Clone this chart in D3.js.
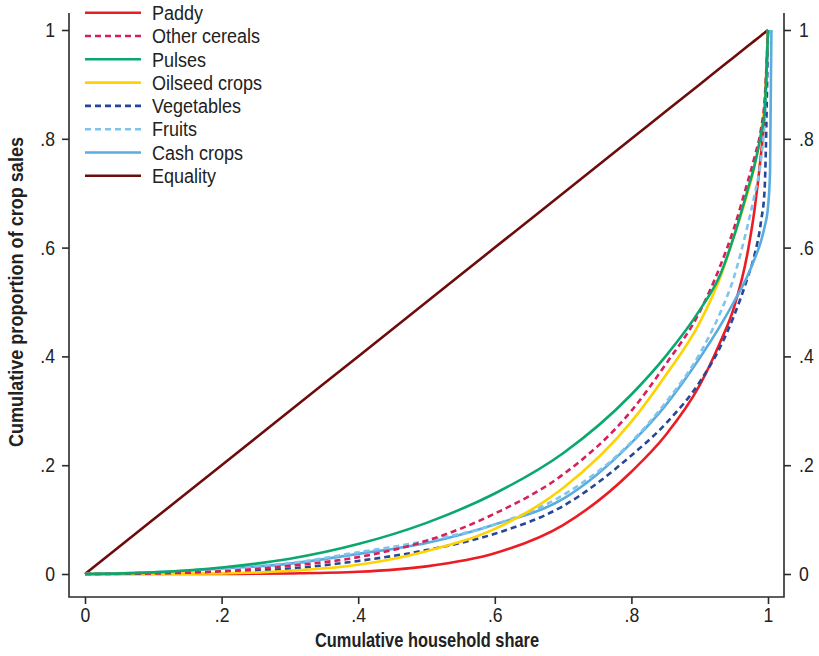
<!DOCTYPE html>
<html>
<head>
<meta charset="utf-8">
<script src="https://cdn.jsdelivr.net/npm/d3@7"></script>
<style>
  body { margin: 0; background: #fff; }
  text { font-family: "Liberation Sans", Arial, sans-serif; fill: #222; }
</style>
</head>
<body>
<svg id="chart" width="819" height="656"></svg>
<script>
// cumulative household share (shared x grid for every curve)
var share = [0, .1, .2, .3, .4, .5, .6, .7, .8, .85, .9, .93, .95, .97, .98, .99, .995, 1];

// cumulative proportion of crop sales
var paddy      = [0, 0, 0, .001, .004, .014, .038, .09, .188, .255, .347, .426, .489, .59, .667, .775, .844, 1];
var cereals    = [0, .001, .005, .015, .031, .061, .111, .183, .30, .385, .482, .566, .635, .72, .765, .82, .87, 1];
var pulses     = [0, .003, .012, .028, .055, .094, .148, .222, .33, .40, .485, .55, .62, .705, .75, .81, .85, 1];
var oilseed    = [0, .0005, .001, .006, .017, .042, .083, .158, .28, .365, .462, .545, .62, .70, .748, .815, .862, 1];
var vegetables = [0, .002, .004, .010, .024, .044, .074, .125, .218, .276, .353, .417, .474, .544, .585, .65, .706, 1];
var fruits     = [0, .003, .010, .020, .040, .061, .091, .145, .243, .315, .405, .48, .545, .64, .695, .765, .83, 1];
var cash       = [0, .003, .010, .019, .037, .057, .091, .138, .241, .31, .397, .456, .50, .548, .578, .613, .638, .675];
// cash crops runs a hair past x = 1 before reaching the top
var cashTail   = [[1.003, .74], [1.005, 1]];
var equality   = [0, .1, .2, .3, .4, .5, .6, .7, .8, .85, .9, .93, .95, .97, .98, .99, .995, 1];

var names  = ["Paddy", "Other cereals", "Pulses", "Oilseed crops", "Vegetables", "Fruits", "Cash crops", "Equality"];
var colors = ["#ec1c24", "#d6205a", "#0aa86e", "#ffd200", "#26469a", "#80c4ec", "#58acdf", "#6e0c0c"];
var dashed = [false, true, false, false, true, true, false, false];

var xTicks = [0, .2, .4, .6, .8, 1];
var yTicks = [0, .2, .4, .6, .8, 1];

var svg = d3.select("#chart");

var x = d3.scaleLinear().domain([0, 1]).range([85, 768]);
var y = d3.scaleLinear().domain([0, 1]).range([574, 30]);

var frame = { left: 69, right: 784, top: 13, bottom: 597 };

function fmt(d) {
	if (d === 0) return "0";
	if (d === 1) return "1";
	return String(d).replace("0.", ".");
}

// squeeze text horizontally to mimic the condensed face of the original
function condense(sel, factor) {
	sel.each(function() {
		var w = this.getComputedTextLength();
		d3.select(this).attr("textLength", w * factor).attr("lengthAdjust", "spacingAndGlyphs");
	});
}

// ---- axes ----
var axisColor = "#2b2b2b";

var gLeft = svg.append("g")
	.attr("transform", "translate(" + frame.left + ",0)")
	.call(d3.axisLeft(y).tickValues(yTicks).tickFormat(fmt).tickSize(7).tickPadding(7));

var gRight = svg.append("g")
	.attr("transform", "translate(" + frame.right + ",0)")
	.call(d3.axisRight(y).tickValues(yTicks).tickFormat(fmt).tickSize(7).tickPadding(8));

var gBottom = svg.append("g")
	.attr("transform", "translate(0," + frame.bottom + ")")
	.call(d3.axisBottom(x).tickValues(xTicks).tickFormat(fmt).tickSize(7).tickPadding(4));

[gLeft, gRight, gBottom].forEach(function(g) {
	g.select(".domain").remove();
	g.selectAll(".tick line").attr("stroke", axisColor).attr("stroke-width", 1.6);
	g.selectAll(".tick text")
		.style("font-size", "20px")
		.style("font-family", "\"Liberation Sans\", Arial, sans-serif")
		.attr("fill", "#222")
		.call(condense, 0.88);
});

// frame lines (left, right, bottom)
svg.append("path")
	.attr("d", "M" + frame.left + "," + frame.top + "V" + frame.bottom + "H" + frame.right + "V" + frame.top)
	.attr("fill", "none")
	.attr("stroke", axisColor)
	.attr("stroke-width", 1.6);

// axis titles
svg.append("text")
	.attr("x", 427)
	.attr("y", 647)
	.attr("text-anchor", "middle")
	.style("font-size", "21px")
	.style("font-weight", "bold")
	.attr("textLength", 224)
	.attr("lengthAdjust", "spacingAndGlyphs")
	.text("Cumulative household share");

svg.append("text")
	.attr("transform", "translate(23,292) rotate(-90)")
	.attr("text-anchor", "middle")
	.style("font-size", "21px")
	.style("font-weight", "bold")
	.attr("textLength", 310)
	.attr("lengthAdjust", "spacingAndGlyphs")
	.text("Cumulative proportion of crop sales");

// ---- curves ----
var allSeries = [paddy, cereals, pulses, oilseed, vegetables, fruits, cash, equality];

var line = d3.line()
	.x(function(d) { return x(d[0]); })
	.y(function(d) { return y(d[1]); })
	.curve(d3.curveMonotoneX);

var lines = svg.append("g").attr("fill", "none");

// draw order: equality first, then the Lorenz curves
var order = [7, 0, 4, 6, 5, 3, 1, 2];
order.forEach(function(i) {
	var pts = share.map(function(s, k) { return [s, allSeries[i][k]]; });
	if (names[i] === "Cash crops") pts = pts.concat(cashTail);
	lines.append("path")
		.attr("d", line(pts))
		.attr("stroke", colors[i])
		.attr("stroke-width", 2.6)
		.attr("stroke-dasharray", dashed[i] ? "6,4" : null);
});

// ---- legend ----
var legend = svg.append("g");
names.forEach(function(n, i) {
	var ly = 12.7 + i * 23.3;
	legend.append("line")
		.attr("x1", 85).attr("x2", 141)
		.attr("y1", ly).attr("y2", ly)
		.attr("stroke", colors[i])
		.attr("stroke-width", 2.6)
		.attr("stroke-dasharray", dashed[i] ? "6,4" : null);
	legend.append("text")
		.attr("x", 152)
		.attr("y", ly)
		.attr("dy", "0.36em")
		.style("font-size", "20px")
		.text(n)
		.call(condense, 0.9);
});
</script>
</body>
</html>
